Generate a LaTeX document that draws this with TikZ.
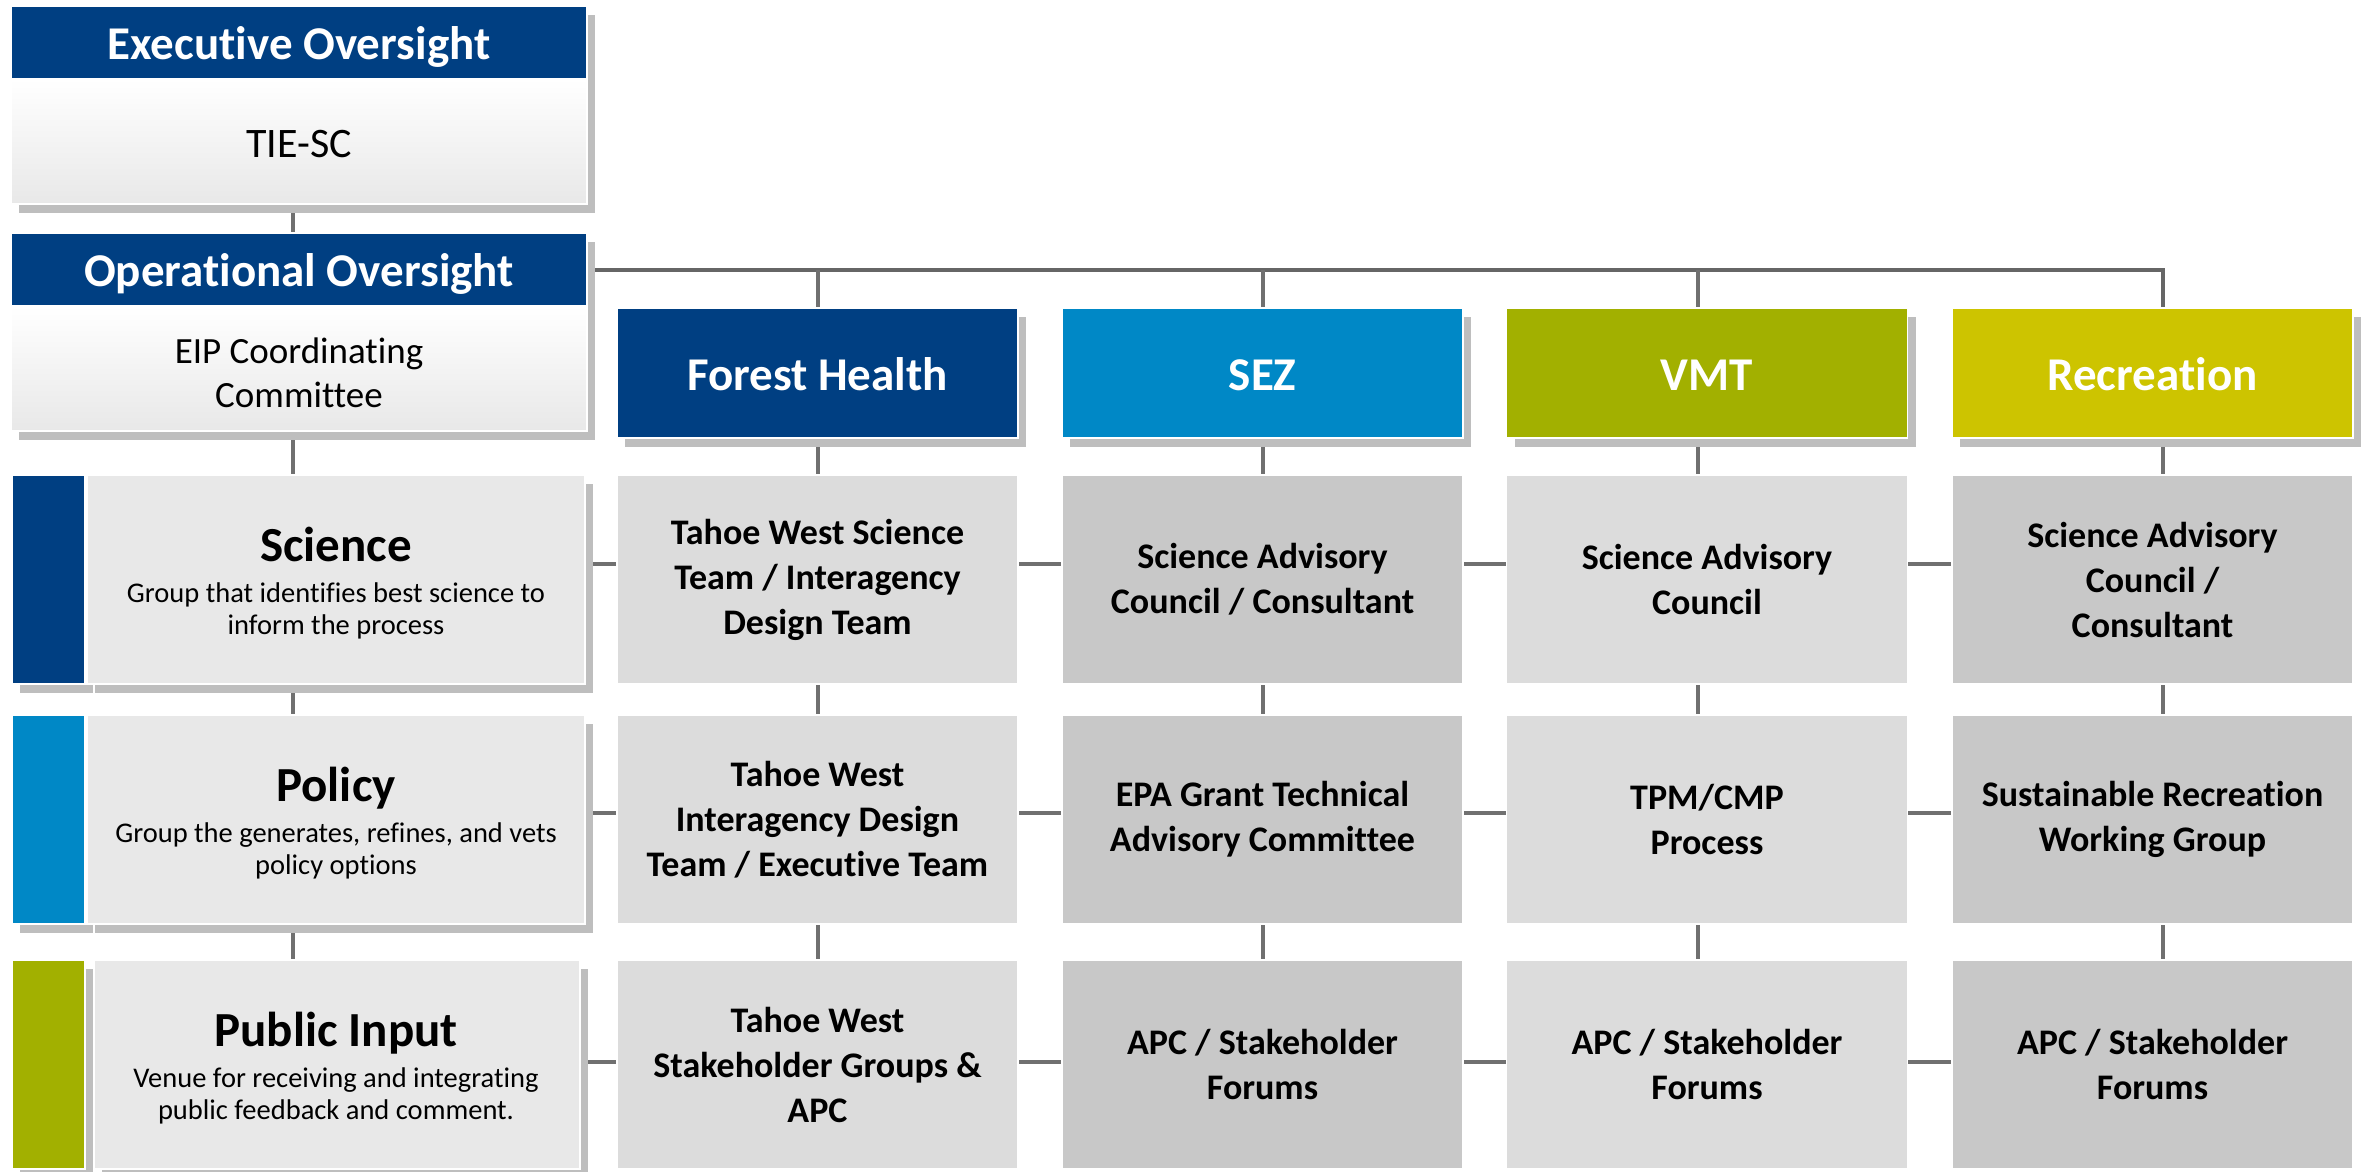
\documentclass[tikz,border=0pt]{standalone}
\usepackage{fontspec}
\setmainfont{Carlito}[Ligatures=CommonOff]
\usetikzlibrary{shadows,backgrounds,calc}
\definecolor{navy}{HTML}{003F82}
\definecolor{sezblue}{HTML}{0088C6}
\definecolor{olive}{HTML}{A2B000}
\definecolor{recyel}{HTML}{CDC400}
\definecolor{lgray}{HTML}{DCDCDC}
\definecolor{dgray}{HTML}{C8C8C8}
\definecolor{rowgray}{HTML}{E8E8E8}
\definecolor{shgray}{HTML}{BEBEBE}
\definecolor{linegray}{HTML}{666666}
\definecolor{conngray}{HTML}{707070}
\newcommand{\lowered}[2]{\raisebox{-#1}[0pt][0pt]{#2}}
\begin{document}
\begin{tikzpicture}[x=0.5pt,y=-0.5pt,
  shd/.style={drop shadow={shadow xshift=4pt,shadow yshift=-4.5pt,fill=shgray,opacity=1}},
  box/.style={rectangle,inner sep=0pt,draw=white,line width=0.8pt,align=center},
  hdr/.style={box,shd,minimum width=288pt,minimum height=36.5pt,fill=navy,text=white,
    font=\fontsize{23.5}{28}\selectfont\bfseries,text height=17pt,text depth=0pt},
  subbox/.style={box,shd,minimum width=288pt,minimum height=62.5pt,top color=white,bottom color=rowgray},
  strip/.style={box,shd,minimum width=36.5pt,minimum height=104.5pt},
  rowbody/.style={box,shd,minimum width=249pt,minimum height=104.5pt,fill=rowgray},
  rowtitle/.style={inner sep=0pt,anchor=base,font=\fontsize{24.5}{29}\selectfont\bfseries},
  rowdesc/.style={inner sep=0pt,align=center,font=\fontsize{14.25}{16}\selectfont},
  colhdr/.style={box,shd,minimum width=200.5pt,minimum height=65pt,text=white,
    font=\fontsize{23.5}{28}\selectfont\bfseries,text height=17pt,text depth=0pt},
  cell/.style={box,minimum width=200.5pt,minimum height=104.5pt,font=\fontsize{18}{22.5}\selectfont\bfseries},
  conn/.style={draw=conngray,line width=1.75pt},
  mainconn/.style={draw=linegray,line width=2pt}
]
\useasboundingbox (0,0) rectangle (2372,1172);

% left column
\node[hdr] (exech) at (299,42.5) {Executive Oversight};
\node[subbox,font=\fontsize{21}{25}\selectfont] (tiesc) at (299,141.5) {\lowered{7.75pt}{TIE-SC}};
\node[hdr] (oph) at (299,269.5) {Operational Oversight};
\node[subbox,font=\fontsize{18.5}{22}\selectfont] (eip) at (299,368.5) {\lowered{8.25pt}{EIP Coordinating}\\\lowered{8.25pt}{Committee}};

% row labels
\node[strip,fill=navy] (sstrip) at (48.5,579.5) {};
\node[rowbody] (scib) at (336,579.5) {};
\node[rowtitle] (scit) at (336,561) {Science};
\node[rowdesc] (scid) at (336,610.5) {Group that identifies best science to\\inform the process};

\node[strip,fill=sezblue] (pstrip) at (48.5,819.5) {};
\node[rowbody] (polb) at (336,819.5) {};
\node[rowtitle] (polt) at (336,801) {Policy};
\node[rowdesc] (pold) at (336,850.5) {Group the generates, refines, and vets\\policy options};

\node[strip,fill=olive] (istrip) at (48.5,1064.5) {};
\node[rowbody,minimum width=243pt] (pubb) at (337,1064.5) {};
\node[rowtitle] (pubt) at (336,1046) {Public Input};
\node[rowdesc] (pubd) at (336,1095.5) {Venue for receiving and integrating\\public feedback and comment.};

% column headers
\node[colhdr,fill=navy] (fh) at (817.5,373) {Forest Health};
\node[colhdr,fill=sezblue] (sez) at (1262.5,373) {SEZ};
\node[colhdr,fill=olive] (vmt) at (1707,373) {VMT};
\node[colhdr,fill=recyel] (rec) at (2152.5,373) {Recreation};

% cells
\node[cell,fill=lgray] (fh1) at (817.5,579.5) {Tahoe West Science\\Team / Interagency\\Design Team};
\node[cell,fill=lgray] (fh2) at (817.5,819.5) {Tahoe West\\Interagency Design\\Team / Executive Team};
\node[cell,fill=lgray] (fh3) at (817.5,1064.5) {Tahoe West\\Stakeholder Groups \&\\APC};

\node[cell,fill=dgray] (sez1) at (1262.5,579.5) {Science Advisory\\Council / Consultant};
\node[cell,fill=dgray] (sez2) at (1262.5,819.5) {EPA Grant Technical\\Advisory Committee};
\node[cell,fill=dgray] (sez3) at (1262.5,1064.5) {APC / Stakeholder\\Forums};

\node[cell,fill=lgray] (vmt1) at (1707,579.5) {Science Advisory\\Council};
\node[cell,fill=lgray] (vmt2) at (1707,819.5) {TPM/CMP\\Process};
\node[cell,fill=lgray] (vmt3) at (1707,1064.5) {APC / Stakeholder\\Forums};

\node[cell,fill=dgray] (rec1) at (2152.5,579.5) {Science Advisory\\Council /\\Consultant};
\node[cell,fill=dgray] (rec2) at (2152.5,819.5) {Sustainable Recreation\\Working Group};
\node[cell,fill=dgray] (rec3) at (2152.5,1064.5) {APC / Stakeholder\\Forums};

% connector guide coordinates
\coordinate (cL) at (293,0);
\coordinate (c1) at (818,0);
\coordinate (c2) at (1263,0);
\coordinate (c3) at (1698,0);
\coordinate (c4) at (2163,0);
\coordinate (r1) at (0,564);
\coordinate (r2) at (0,813);
\coordinate (r3) at (0,1062);

\begin{scope}[on background layer]
  \fill[white] (0,0) rectangle (2372,1172);
  % left spine
  \draw[conn] (tiesc.south -| cL) -- (oph.north -| cL);
  \draw[conn] (eip.south -| cL) -- (scib.north -| cL);
  \draw[conn] (scib.south -| cL) -- (polb.north -| cL);
  \draw[conn] (polb.south -| cL) -- (pubb.north -| cL);
  % main bus
  \draw[mainconn] (oph.east) -| (rec.north -| c4);
  \draw[conn] (oph.east -| c1) -- (fh.north -| c1);
  \draw[conn] (oph.east -| c2) -- (sez.north -| c2);
  \draw[conn] (oph.east -| c3) -- (vmt.north -| c3);
  % column verticals
  \foreach \h/\a/\b/\c/\x in {fh/fh1/fh2/fh3/c1, sez/sez1/sez2/sez3/c2, vmt/vmt1/vmt2/vmt3/c3, rec/rec1/rec2/rec3/c4}{
    \draw[conn] (\h.south -| \x) -- (\a.north -| \x);
    \draw[conn] (\a.south -| \x) -- (\b.north -| \x);
    \draw[conn] (\b.south -| \x) -- (\c.north -| \x);
  }
  % row horizontals
  \foreach \l/\a/\b/\c/\d/\r in {scib/fh1/sez1/vmt1/rec1/r1, polb/fh2/sez2/vmt2/rec2/r2, pubb/fh3/sez3/vmt3/rec3/r3}{
    \draw[conn] (\l.east |- \r) -- (\a.west |- \r);
    \draw[conn] (\a.east |- \r) -- (\b.west |- \r);
    \draw[conn] (\b.east |- \r) -- (\c.west |- \r);
    \draw[conn] (\c.east |- \r) -- (\d.west |- \r);
  }
\end{scope}
\end{tikzpicture}
\end{document}
